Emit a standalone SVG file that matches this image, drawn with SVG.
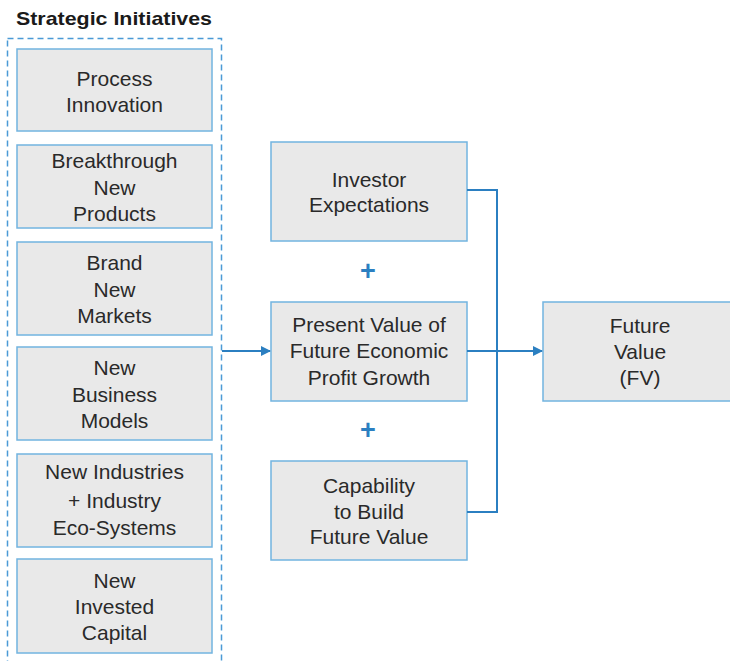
<svg xmlns="http://www.w3.org/2000/svg" width="730" height="661" viewBox="0 0 730 661">
  <style>
    .box { fill: #e9e9e9; stroke: #72b4e0; stroke-width: 1.5; }
    .lbl { font-family: "Liberation Sans", Arial, sans-serif; font-size: 21px; fill: #2a2a2a; text-anchor: middle; }
    .title { font-family: "Liberation Sans", Arial, sans-serif; font-size: 19px; font-weight: bold; fill: #1a1a1a; }
    .wire { fill: none; stroke: #2b7fc1; stroke-width: 2; }
    .plus { font-family: "Liberation Sans", Arial, sans-serif; font-size: 27px; font-weight: bold; fill: #2b7fc1; text-anchor: middle; }
  </style>
  <defs>
    <marker id="arrow" viewBox="0 0 10 10" refX="9" refY="5" markerWidth="5" markerHeight="5" orient="auto">
      <path d="M0,0 L10,5 L0,10 z" fill="#2b7fc1"/>
    </marker>
  </defs>
  <rect width="730" height="661" fill="#ffffff"/>

  <text class="title" x="16" y="25" textLength="196" lengthAdjust="spacingAndGlyphs">Strategic Initiatives</text>
  <rect x="7.5" y="38.5" width="214" height="640" fill="none" stroke="#4a9ad6" stroke-width="1.5" stroke-dasharray="6,4"/>

  <g id="process-innovation">
    <rect class="box" x="17" y="49" width="195" height="82"/>
    <text class="lbl" x="114.5" y="86">Process</text>
    <text class="lbl" x="114.5" y="112">Innovation</text>
  </g>
  <g id="breakthrough-products">
    <rect class="box" x="17" y="145" width="195" height="83"/>
    <text class="lbl" x="114.5" y="168">Breakthrough</text>
    <text class="lbl" x="114.5" y="195">New</text>
    <text class="lbl" x="114.5" y="221">Products</text>
  </g>
  <g id="brand-new-markets">
    <rect class="box" x="17" y="242" width="195" height="93"/>
    <text class="lbl" x="114.5" y="270">Brand</text>
    <text class="lbl" x="114.5" y="297">New</text>
    <text class="lbl" x="114.5" y="323">Markets</text>
  </g>
  <g id="new-business-models">
    <rect class="box" x="17" y="347" width="195" height="93"/>
    <text class="lbl" x="114.5" y="375">New</text>
    <text class="lbl" x="114.5" y="402">Business</text>
    <text class="lbl" x="114.5" y="428">Models</text>
  </g>
  <g id="new-industries">
    <rect class="box" x="17" y="454" width="195" height="93"/>
    <text class="lbl" x="114.5" y="479">New Industries</text>
    <text class="lbl" x="114.5" y="508">+ Industry</text>
    <text class="lbl" x="114.5" y="535">Eco-Systems</text>
  </g>
  <g id="new-invested-capital">
    <rect class="box" x="17" y="559" width="195" height="94"/>
    <text class="lbl" x="114.5" y="588">New</text>
    <text class="lbl" x="114.5" y="614">Invested</text>
    <text class="lbl" x="114.5" y="640">Capital</text>
  </g>

  <g id="investor-expectations">
    <rect class="box" x="271" y="142" width="196" height="99"/>
    <text class="lbl" x="369" y="187">Investor</text>
    <text class="lbl" x="369" y="212">Expectations</text>
  </g>
  <g id="present-value">
    <rect class="box" x="271" y="302" width="196" height="99"/>
    <text class="lbl" x="369" y="332">Present Value of</text>
    <text class="lbl" x="369" y="358">Future Economic</text>
    <text class="lbl" x="369" y="385">Profit Growth</text>
  </g>
  <g id="capability">
    <rect class="box" x="271" y="461" width="196" height="99"/>
    <text class="lbl" x="369" y="493">Capability</text>
    <text class="lbl" x="369" y="519">to Build</text>
    <text class="lbl" x="369" y="544">Future Value</text>
  </g>
  <g id="future-value">
    <rect class="box" x="543" y="302" width="200" height="99"/>
    <text class="lbl" x="640" y="333">Future</text>
    <text class="lbl" x="640" y="359">Value</text>
    <text class="lbl" x="640" y="385">(FV)</text>
  </g>

  <g id="operators">
    <text class="plus" x="368" y="280">+</text>
    <text class="plus" x="368" y="439">+</text>
  </g>

  <g id="connectors">
    <path class="wire" d="M222,351 H270" marker-end="url(#arrow)"/>
    <path class="wire" d="M467,190 H497 V512 H467"/>
    <path class="wire" d="M467,351 H542" marker-end="url(#arrow)"/>
  </g>
</svg>
